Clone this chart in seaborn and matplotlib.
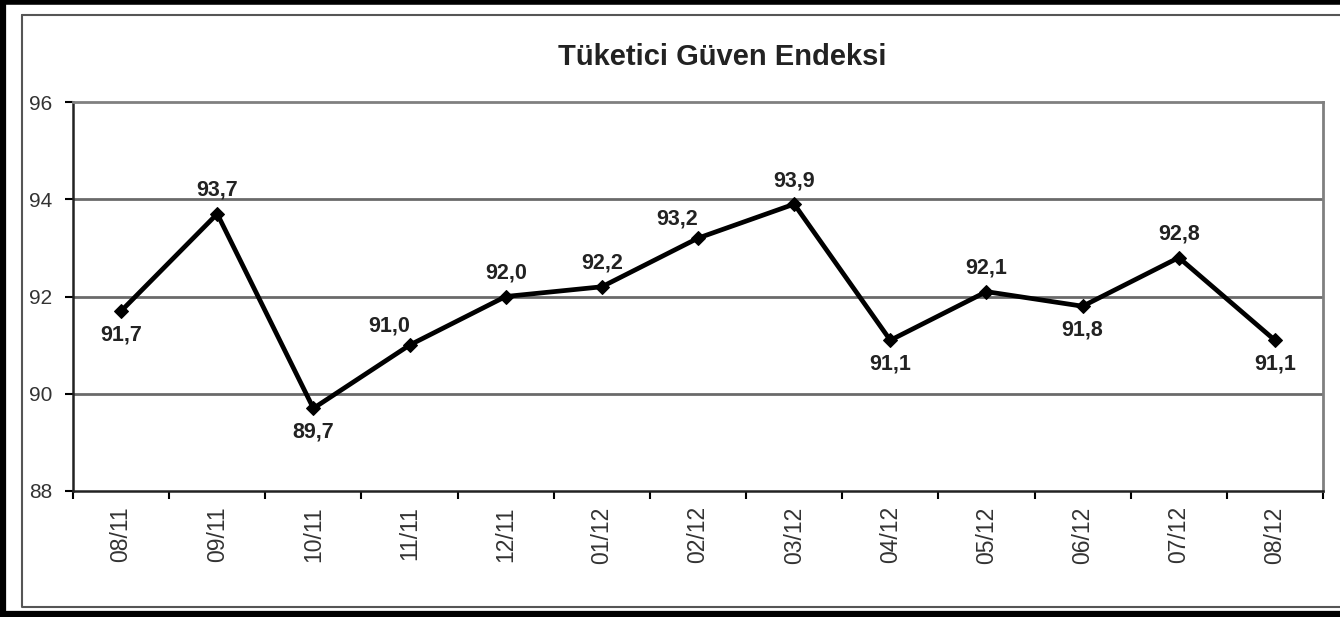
import pandas as pd
import matplotlib.pyplot as plt
import seaborn as sns
from matplotlib.lines import Line2D
from matplotlib.ticker import FixedLocator

# ==========================================
# DATOS
# ==========================================

donemler = ["08/11", "09/11", "10/11", "11/11", "12/11", "01/12", "02/12",
            "03/12", "04/12", "05/12", "06/12", "07/12", "08/12"]

endeks = [91.7, 93.7, 89.7, 91.0, 92.0, 92.2, 93.2,
          93.9, 91.1, 92.1, 91.8, 92.8, 91.1]

etiketler = ["91,7", "93,7", "89,7", "91,0", "92,0", "92,2", "93,2",
             "93,9", "91,1", "92,1", "91,8", "92,8", "91,1"]

# etiket yerleri (ust / alt / sol-ust)
yerler = ["alt", "ust", "alt", "sol", "ust", "ust", "sol",
          "ust", "alt", "ust", "alt", "ust", "alt"]

df = pd.DataFrame({"donem": donemler, "endeks": endeks})
df["x"] = range(len(df))

# ==========================================
# GRAFIK
# ==========================================

sns.set_style("white")
plt.rcParams["font.family"] = ["Liberation Sans", "DejaVu Sans"]

fig = plt.figure(figsize=(13.4, 6.17), dpi=100)
ax = fig.add_axes([73 / 1340, 1 - 491 / 617, 1250 / 1340, 389 / 617])

for y in [90, 92, 94]:
    ax.axhline(y, color="#6a6a6a", lw=2, zorder=1)

sns.lineplot(data=df, x="x", y="endeks", ax=ax, color="black", lw=3.4,
             marker="D", markersize=7, markeredgecolor="black", zorder=3)

ofs = {"ust": (0, 17), "alt": (0, -17), "sol": (-15, 14)}
for i, (v, t, yer) in enumerate(zip(endeks, etiketler, yerler)):
    ax.annotate(t, (i, v), xytext=ofs[yer], textcoords="offset points",
                ha="center", va="center", fontsize=15.5, fontweight="bold",
                color="#222222")

ax.set_xlim(-0.5, len(donemler) - 0.5)
ax.set_ylim(88, 96)
ax.set_yticks([88, 90, 92, 94, 96])
ax.set_yticklabels(["88", "90", "92", "94", "96"], fontsize=15, color="#333333")
ax.set_xticks(df["x"])
ax.set_xticklabels(donemler, rotation=90, fontsize=16.5, color="#333333")
ax.xaxis.set_minor_locator(FixedLocator([i - 0.5 for i in range(len(donemler) + 1)]))
ax.tick_params(axis="x", which="major", length=0, pad=11)
ax.tick_params(axis="x", which="minor", length=6, width=1.5, color="black", bottom=True)
ax.tick_params(axis="y", length=6, width=1.5, color="black", left=True, pad=9)

ax.set_xlabel("")
ax.set_ylabel("")

for s in ["left", "bottom"]:
    ax.spines[s].set_color("#222222")
    ax.spines[s].set_linewidth(1.8)
for s in ["top", "right"]:
    ax.spines[s].set_color("#808080")
    ax.spines[s].set_linewidth(2)

fig.text(722 / 1340, 1 - 57 / 617, "Tüketici Güven Endeksi", ha="center",
         va="center", fontsize=21, fontweight="bold", color="#222222")

# cerceveler
W, H = 1340, 617
def cizgi(x, y, renk, lw):
    fig.add_artist(Line2D([a / W for a in x], [1 - b / H for b in y],
                          color=renk, lw=lw, transform=fig.transFigure))

cizgi([22, 22, 1340], [15, 607, 607], "#555555", 1.5)
cizgi([22, 1340], [15, 15], "#555555", 1.5)
cizgi([3, 3], [0, 617], "black", 4.5)
cizgi([0, 1340], [2, 2], "black", 4)
cizgi([0, 1340], [614, 614], "black", 4.5)

plt.savefig("out.png", dpi=100)
plt.close()
